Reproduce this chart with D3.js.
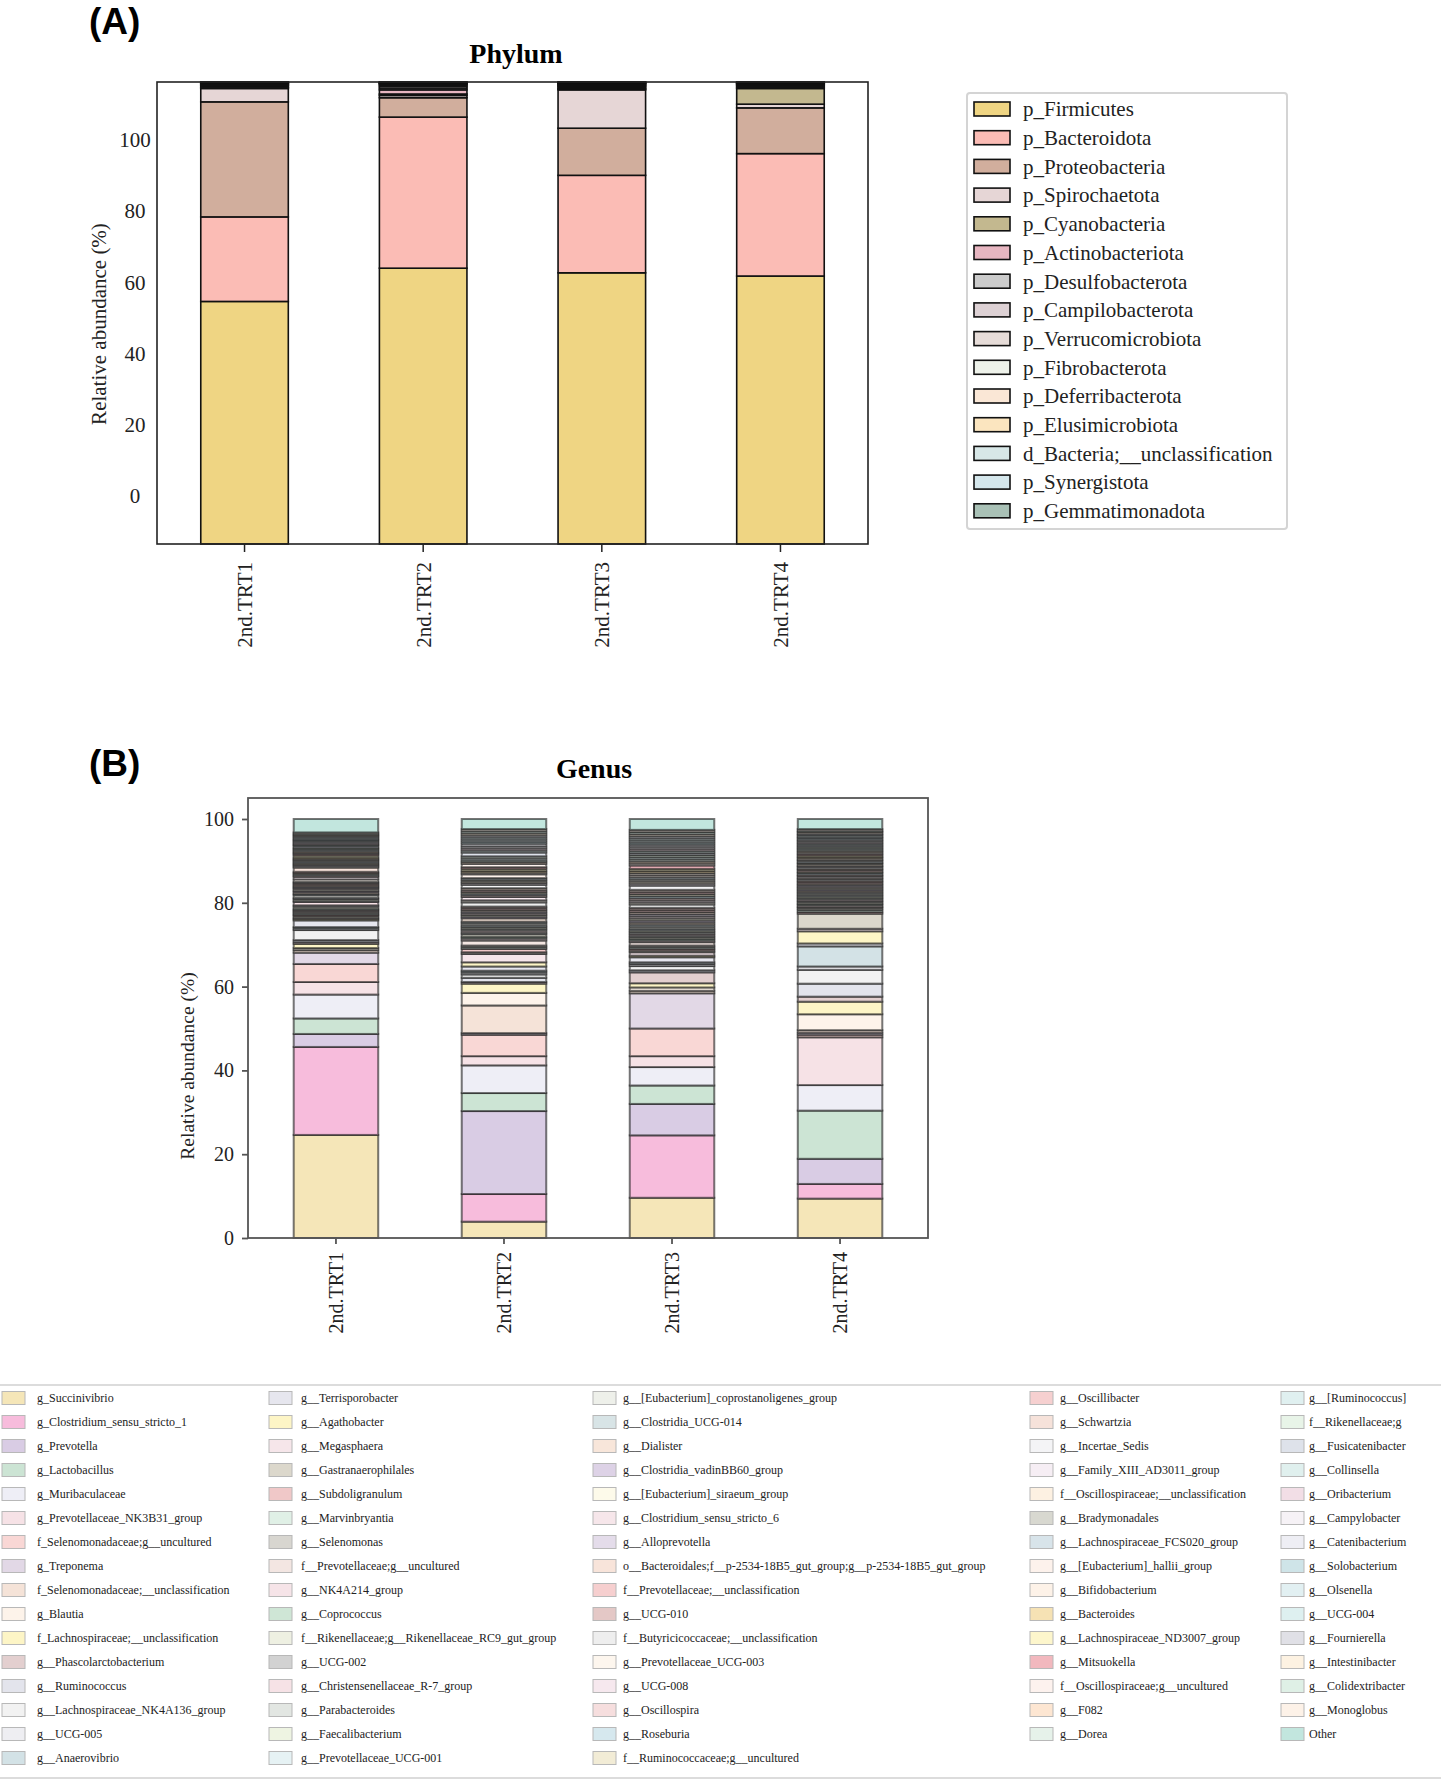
<!DOCTYPE html>
<html>
<head>
<meta charset="utf-8">
<script src="https://cdn.jsdelivr.net/npm/d3@7"></script>
<style>
  body { margin: 0; background: #fff; }
</style>
</head>
<body>
<div id="chart"></div>
<script>
// ---- data ----
const samples = [`2nd.TRT1`, `2nd.TRT2`, `2nd.TRT3`, `2nd.TRT4`];
const yTicks = [0, 20, 40, 60, 80, 100];

const phylumNames = [`p_Firmicutes`, `p_Bacteroidota`, `p_Proteobacteria`, `p_Spirochaetota`,
    `p_Cyanobacteria`, `p_Actinobacteriota`, `p_Desulfobacterota`, `p_Campilobacterota`,
    `p_Verrucomicrobiota`, `p_Fibrobacterota`, `p_Deferribacterota`, `p_Elusimicrobiota`,
    `d_Bacteria;__unclassification`, `p_Synergistota`, `p_Gemmatimonadota`];
const phylumColors = [`#efd583`, `#fbbcb5`, `#d1ae9d`, `#e6d6d6`, `#c3b88f`, `#e7b6c1`, `#cbcbcb`,
    `#ddd1d4`, `#e6dcd8`, `#eef2ea`, `#fae7d6`, `#fbe5bf`, `#d7e7e7`, `#d5e7ec`, `#a9c1b6`];
const phylumTRT1 = [52.5, 18.3, 24.9, 2.9, 0.15, 0.15, 0.3, 0.1, 0.2, 0.1, 0.1, 0.1, 0.1, 0.05, 0.05];
const phylumTRT2 = [59.7, 32.7, 4.2, 0.5, 0.3, 0.9, 0.4, 0.4, 0.3, 0.2, 0.1, 0.1, 0.1, 0.05, 0.05];
const phylumTRT3 = [58.7, 21.1, 10.2, 8.3, 0.2, 0.2, 0.3, 0.2, 0.2, 0.2, 0.1, 0.1, 0.1, 0.05, 0.05];
const phylumTRT4 = [58.0, 26.5, 9.9, 0.8, 3.4, 0.2, 0.3, 0.2, 0.2, 0.1, 0.1, 0.1, 0.1, 0.05, 0.05];

const genusNames = [
    `g_Succinivibrio`, `g_Clostridium_sensu_stricto_1`, `g_Prevotella`, `g_Lactobacillus`,
    `g_Muribaculaceae`, `g_Prevotellaceae_NK3B31_group`, `f_Selenomonadaceae;g__uncultured`, `g_Treponema`,
    `f_Selenomonadaceae;__unclassification`, `g_Blautia`, `f_Lachnospiraceae;__unclassification`,
    `g__Phascolarctobacterium`, `g__Ruminococcus`, `g__Lachnospiraceae_NK4A136_group`, `g__UCG-005`, `g__Anaerovibrio`,
    `g__Terrisporobacter`, `g__Agathobacter`, `g__Megasphaera`, `g__Gastranaerophilales`, `g__Subdoligranulum`,
    `g__Marvinbryantia`, `g__Selenomonas`, `f__Prevotellaceae;g__uncultured`, `g__NK4A214_group`, `g__Coprococcus`,
    `f__Rikenellaceae;g__Rikenellaceae_RC9_gut_group`, `g__UCG-002`, `g__Christensenellaceae_R-7_group`,
    `g__Parabacteroides`, `g__Faecalibacterium`, `g__Prevotellaceae_UCG-001`,
    `g__[Eubacterium]_coprostanoligenes_group`, `g__Clostridia_UCG-014`, `g__Dialister`, `g__Clostridia_vadinBB60_group`,
    `g__[Eubacterium]_siraeum_group`, `g__Clostridium_sensu_stricto_6`, `g__Alloprevotella`,
    `o__Bacteroidales;f__p-2534-18B5_gut_group;g__p-2534-18B5_gut_group`, `f__Prevotellaceae;__unclassification`,
    `g__UCG-010`, `f__Butyricicoccaceae;__unclassification`, `g__Prevotellaceae_UCG-003`, `g__UCG-008`,
    `g__Oscillospira`, `g__Roseburia`, `f__Ruminococcaceae;g__uncultured`,
    `g__Oscillibacter`, `g__Schwartzia`, `g__Incertae_Sedis`, `g__Family_XIII_AD3011_group`,
    `f__Oscillospiraceae;__unclassification`, `g__Bradymonadales`, `g__Lachnospiraceae_FCS020_group`,
    `g__[Eubacterium]_hallii_group`, `g__Bifidobacterium`, `g__Bacteroides`, `g__Lachnospiraceae_ND3007_group`,
    `g__Mitsuokella`, `f__Oscillospiraceae;g__uncultured`, `g__F082`, `g__Dorea`,
    `g__[Ruminococcus]`, `f__Rikenellaceae;g`, `g__Fusicatenibacter`, `g__Collinsella`, `g__Oribacterium`,
    `g__Campylobacter`, `g__Catenibacterium`, `g__Solobacterium`, `g__Olsenella`, `g__UCG-004`,
    `g__Fournierella`, `g__Intestinibacter`, `g__Colidextribacter`, `g__Monoglobus`, `Other`];
const genusColors = [
    `#f5e6b8`, `#f7bcdc`, `#d9cce4`, `#cce4d4`, `#eeeef6`, `#f6e2e6`, `#f9d7d5`, `#e2d8e6`,
    `#f5e3d8`, `#fdf3ea`, `#fdf5c6`, `#e3cfcf`, `#e3e4ec`, `#f2f2f2`, `#eeeef2`, `#d3e2e6`,
    `#e6e6ee`, `#fdf5c6`, `#f6e6ea`, `#dcd8cc`, `#f0c8c8`, `#e0f0e6`, `#d8d6d0`, `#f3e6e2`,
    `#f6e4e8`, `#cfe6d6`, `#eef0e2`, `#d2d2d2`, `#f6e2e6`, `#e2e6e2`, `#eef4e2`, `#e6f2f4`,
    `#eef0ea`, `#d8e4e6`, `#f8e6da`, `#ddd2e6`, `#fdfaea`, `#f6e6ea`, `#e4dcea`, `#f8e4da`,
    `#f6cfcf`, `#e4c8c6`, `#eeeeee`, `#fdf6ee`, `#f6e8ee`, `#f6dede`, `#d6e8ee`, `#f2ecd6`,
    `#f6d0d0`, `#f6e2da`, `#f4f4f6`, `#f6eef4`, `#fdf1e2`, `#d8d8d0`, `#d8e4ea`, `#fdf2ec`,
    `#fdf2e8`, `#f6e2b4`, `#fdf6cc`, `#f2b8be`, `#fdf2ee`, `#fde6d2`, `#e6f2ea`,
    `#e0f0f0`, `#e8f4e8`, `#dee2ea`, `#e0f0ee`, `#f2dee6`, `#f6f2f6`, `#eeeef4`, `#cfe4e8`,
    `#e2f0f2`, `#def0f0`, `#e0e0e6`, `#fdf2e2`, `#dff0e6`, `#fdf2e8`, `#c2e6de`];
const genusTRT1 = [
    24.6, 21.0, 3.1, 3.7, 5.7, 3.0, 4.3, 2.7, 0.6, 0.5,
    1.0, 0.4, 0.5, 2.4, 0.4, 0.3, 1.6, 0.3, 0.3, 0.4,
    0.3, 0.3, 0.3, 0.3, 0.3, 0.3, 0.5, 0.3, 0.8, 0.3,
    0.4, 0.3, 0.6, 0.3, 0.4, 0.3, 0.4, 0.3, 0.3, 0.3,
    0.3, 0.3, 0.3, 0.6, 0.6, 0.3, 0.3, 0.3, 0.3, 1.0,
    0.3, 0.3, 0.3, 0.3, 0.3, 0.3, 0.3, 0.3, 0.5, 0.3,
    0.3, 0.3, 0.3, 0.3, 0.3, 0.4, 0.3, 0.3, 0.3, 0.3,
    0.3, 0.3, 0.3, 0.3, 0.3, 0.3, 0.3, 3.2];
const genusTRT2 = [
    3.9, 6.6, 19.8, 4.3, 6.6, 2.2, 5.1, 0.4, 6.6, 3.0,
    2.2, 0.4, 1.0, 0.8, 0.5, 0.4, 1.0, 1.0, 2.0, 0.4,
    0.8, 0.4, 0.4, 1.2, 0.5, 0.4, 0.6, 0.4, 0.5, 0.4,
    0.4, 0.4, 0.5, 0.4, 0.8, 0.4, 0.4, 0.4, 0.4, 0.4,
    0.4, 0.4, 1.0, 0.5, 0.8, 0.4, 0.4, 0.4, 0.4, 0.5,
    0.8, 0.4, 0.4, 0.4, 0.4, 0.9, 0.4, 0.4, 0.5, 0.4,
    0.8, 0.4, 0.4, 0.5, 0.5, 0.9, 0.5, 0.5, 0.5, 0.6,
    0.5, 0.5, 0.5, 0.5, 0.5, 0.5, 0.5, 2.4];
const genusTRT3 = [
    9.6, 14.9, 7.5, 4.4, 4.4, 2.6, 6.6, 8.4, 0.6, 0.8,
    1.0, 2.6, 0.5, 1.0, 0.5, 0.4, 1.2, 0.4, 0.8, 0.4,
    0.4, 0.4, 0.4, 0.8, 0.4, 0.4, 0.4, 0.4, 0.4, 0.4,
    0.4, 0.4, 0.5, 0.5, 0.5, 0.5, 0.5, 0.5, 0.5, 0.5,
    0.5, 0.5, 0.8, 0.5, 0.5, 0.5, 0.5, 0.5, 0.5, 0.5,
    1.0, 0.5, 0.5, 0.5, 0.5, 0.5, 0.5, 0.5, 0.5, 0.8,
    0.5, 0.5, 0.5, 0.5, 0.5, 0.5, 0.5, 0.5, 0.5, 0.5,
    0.5, 0.5, 0.5, 0.5, 0.5, 0.5, 0.5, 2.6];
const genusTRT4 = [
    9.4, 3.5, 6.0, 11.5, 6.1, 11.4, 0.6, 0.5, 0.6, 3.8,
    3.0, 1.2, 3.1, 3.3, 0.8, 4.8, 0.7, 2.9, 0.6, 3.6,
    0.4, 0.5, 0.4, 0.3, 0.4, 0.3, 0.4, 0.3, 0.4, 0.3,
    0.4, 0.3, 0.4, 0.3, 0.4, 0.3, 0.4, 0.3, 0.4, 0.3,
    0.4, 0.3, 0.4, 0.3, 0.4, 0.3, 0.4, 0.3, 0.4, 0.3,
    0.4, 0.3, 0.4, 0.3, 0.4, 0.3, 0.4, 0.3, 0.4, 0.3,
    0.4, 0.3, 0.4, 0.3, 0.4, 0.3, 0.4, 0.3, 0.4, 0.3,
    0.4, 0.3, 0.4, 0.3, 0.4, 0.3, 0.4, 2.4];

// ---- layout ----
const width = 1441;
const height = 1781;
const serif = `"Times New Roman", "Liberation Serif", serif`;
const sans = `Arial, "Liberation Sans", sans-serif`;

const boxA = {left: 157, right: 868, top: 82, bottom: 544};
const boxB = {left: 248, right: 928, top: 798, bottom: 1238};

const svg = d3.select(`#chart`)
    .append(`svg`)
        .attr(`width`, width)
        .attr(`height`, height)
        .style(`display`, `block`);

const makeRows = series => samples.map((s, i) => ({sample: s, values: series[i]}));

const drawStack = (rows, n, colors, x, y, stroke, strokeWidth, strokeOpacity) => {
    const stacked = d3.stack()
        .keys(d3.range(n))
        .value((d, k) => d.values[k])(rows);
    svg.append(`g`).selectAll(`g`)
        .data(stacked)
        .join(`g`)
            .attr(`fill`, d => colors[d.key])
        .selectAll(`rect`)
        .data(d => d)
        .join(`rect`)
            .attr(`x`, d => x(d.data.sample))
            .attr(`y`, d => y(d[1]))
            .attr(`width`, x.bandwidth())
            .attr(`height`, d => y(d[0]) - y(d[1]))
            .attr(`stroke`, stroke)
            .attr(`stroke-width`, strokeWidth)
            .attr(`stroke-opacity`, strokeOpacity);
};

// ---- panel A : Phylum ----
svg.append(`text`)
    .attr(`x`, 89).attr(`y`, 34)
    .style(`font`, `bold 37px ${sans}`)
    .text(`(A)`);

svg.append(`text`)
    .attr(`x`, 516).attr(`y`, 63)
    .attr(`text-anchor`, `middle`)
    .style(`font`, `bold 28px ${serif}`)
    .text(`Phylum`);

const xA = d3.scaleBand().domain(samples).range([boxA.left, boxA.right])
    .paddingInner(0.51).paddingOuter(0.245);
const yA = d3.scaleLinear().domain([0, 100]).range([boxA.bottom, boxA.top]);
// tick labels in panel A sit on their own scale (as in the original figure)
const yLabelA = d3.scaleLinear().domain([0, 100]).range([496, 140]);

drawStack(makeRows([phylumTRT1, phylumTRT2, phylumTRT3, phylumTRT4]),
    phylumNames.length, phylumColors, xA, yA, `#111`, 1.6, 1);

svg.append(`rect`)
    .attr(`x`, boxA.left).attr(`y`, boxA.top)
    .attr(`width`, boxA.right - boxA.left).attr(`height`, boxA.bottom - boxA.top)
    .attr(`fill`, `none`).attr(`stroke`, `#222`).attr(`stroke-width`, 1.6);

svg.append(`g`)
    .attr(`transform`, `translate(${boxA.left},0)`)
    .call(d3.axisLeft(yLabelA).tickValues(yTicks).tickSize(0))
    .call(g => g.select(`.domain`).remove())
    .call(g => g.selectAll(`text`)
        .attr(`x`, -22)
        .attr(`text-anchor`, `middle`)
        .style(`font`, `21px ${serif}`)
        .attr(`fill`, `#222`));

svg.append(`g`)
    .attr(`transform`, `translate(0,${boxA.bottom})`)
    .call(d3.axisBottom(xA).tickSize(8))
    .call(g => g.select(`.domain`).remove())
    .call(g => g.selectAll(`line`).attr(`stroke`, `#222`).attr(`stroke-width`, 1.5))
    .call(g => g.selectAll(`text`)
        .attr(`transform`, `rotate(-90)`)
        .attr(`x`, -18).attr(`y`, 0).attr(`dy`, `0.35em`)
        .attr(`text-anchor`, `end`)
        .style(`font`, `21px ${serif}`)
        .attr(`fill`, `#222`));

svg.append(`text`)
    .attr(`transform`, `translate(99,324) rotate(-90)`)
    .attr(`text-anchor`, `middle`)
    .attr(`dy`, `0.35em`)
    .style(`font`, `21px ${serif}`)
    .attr(`fill`, `#222`)
    .text(`Relative abundance (%)`);

// legend A
const legA = svg.append(`g`);
legA.append(`rect`)
    .attr(`x`, 967).attr(`y`, 93).attr(`width`, 320).attr(`height`, 436)
    .attr(`rx`, 3)
    .attr(`fill`, `#fff`).attr(`stroke`, `#d4d4d4`).attr(`stroke-width`, 2);
const legAItem = legA.selectAll(`g.item`)
    .data(phylumNames)
    .join(`g`)
        .attr(`class`, `item`)
        .attr(`transform`, (d, i) => `translate(974,${109 + i * 28.7})`);
legAItem.append(`rect`)
    .attr(`x`, 0).attr(`y`, -7).attr(`width`, 36).attr(`height`, 14)
    .attr(`fill`, (d, i) => phylumColors[i])
    .attr(`stroke`, `#111`).attr(`stroke-width`, 1.6);
legAItem.append(`text`)
    .attr(`x`, 49).attr(`y`, 0).attr(`dy`, `0.35em`)
    .style(`font`, `21px ${serif}`)
    .attr(`fill`, `#222`)
    .text(d => d);

// ---- panel B : Genus ----
svg.append(`text`)
    .attr(`x`, 89).attr(`y`, 776)
    .style(`font`, `bold 37px ${sans}`)
    .text(`(B)`);

svg.append(`text`)
    .attr(`x`, 594).attr(`y`, 778)
    .attr(`text-anchor`, `middle`)
    .style(`font`, `bold 28px ${serif}`)
    .text(`Genus`);

const xB = d3.scaleBand().domain(samples).range([boxB.left, boxB.right])
    .paddingInner(0.497).paddingOuter(0.272);
const yB = d3.scaleLinear().domain([0, 100]).range([boxB.bottom, 819]);

drawStack(makeRows([genusTRT1, genusTRT2, genusTRT3, genusTRT4]),
    genusNames.length, genusColors, xB, yB, `#1a1a1a`, 2, 0.6);

svg.append(`rect`)
    .attr(`x`, boxB.left).attr(`y`, boxB.top)
    .attr(`width`, boxB.right - boxB.left).attr(`height`, boxB.bottom - boxB.top)
    .attr(`fill`, `none`).attr(`stroke`, `#555`).attr(`stroke-width`, 1.8);

svg.append(`g`)
    .attr(`transform`, `translate(${boxB.left},0)`)
    .call(d3.axisLeft(yB).tickValues(yTicks).tickSize(6).tickPadding(8))
    .call(g => g.select(`.domain`).remove())
    .call(g => g.selectAll(`line`).attr(`stroke`, `#555`).attr(`stroke-width`, 1.8))
    .call(g => g.selectAll(`text`)
        .style(`font`, `20px ${serif}`)
        .attr(`fill`, `#222`));

svg.append(`g`)
    .attr(`transform`, `translate(0,${boxB.bottom})`)
    .call(d3.axisBottom(xB).tickSize(6))
    .call(g => g.select(`.domain`).remove())
    .call(g => g.selectAll(`line`).attr(`stroke`, `#555`).attr(`stroke-width`, 1.8))
    .call(g => g.selectAll(`text`)
        .attr(`transform`, `rotate(-90)`)
        .attr(`x`, -14).attr(`y`, 0).attr(`dy`, `0.35em`)
        .attr(`text-anchor`, `end`)
        .style(`font`, `20px ${serif}`)
        .attr(`fill`, `#222`));

svg.append(`text`)
    .attr(`transform`, `translate(187,1066) rotate(-90)`)
    .attr(`text-anchor`, `middle`)
    .attr(`dy`, `0.35em`)
    .style(`font`, `19.5px ${serif}`)
    .attr(`fill`, `#222`)
    .text(`Relative abundance (%)`);

// legend B
svg.append(`line`)
    .attr(`x1`, 0).attr(`x2`, width).attr(`y1`, 1385).attr(`y2`, 1385)
    .attr(`stroke`, `#dcdcdc`).attr(`stroke-width`, 2);
svg.append(`line`)
    .attr(`x1`, 0).attr(`x2`, width).attr(`y1`, 1778).attr(`y2`, 1778)
    .attr(`stroke`, `#dcdcdc`).attr(`stroke-width`, 2);

const colSizes = [16, 16, 16, 15, 15];
const colX = [2, 269, 593, 1030, 1281];
const colText = [35, 32, 30, 30, 28];
const colStart = d3.cumsum([0, ...colSizes]);
const colOf = i => colStart.findIndex((s, c) => i >= s && i < colStart[c + 1]);

const legBItem = svg.append(`g`).selectAll(`g`)
    .data(genusNames)
    .join(`g`)
        .attr(`transform`, (d, i) => {
            const c = colOf(i);
            return `translate(${colX[c]},${1398 + (i - colStart[c]) * 24})`;
        });
legBItem.append(`rect`)
    .attr(`x`, 0).attr(`y`, -6.5).attr(`width`, 23).attr(`height`, 13)
    .attr(`fill`, (d, i) => genusColors[i])
    .attr(`stroke`, `#b8b8b8`).attr(`stroke-width`, 1);
legBItem.append(`text`)
    .attr(`x`, (d, i) => colText[colOf(i)]).attr(`y`, 0).attr(`dy`, `0.3em`)
    .style(`font`, `12px ${serif}`)
    .attr(`fill`, `#222`)
    .text(d => d);
</script>
</body>
</html>
